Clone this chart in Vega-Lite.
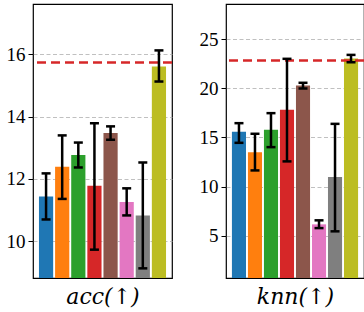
{
  "$schema": "https://vega.github.io/schema/vega-lite/v6.json",
  "padding": {"left": 5, "top": 3, "right": 0, "bottom": 0},
  "datasets": {
    "bars": [
      {"panel": "acc", "method": "m1", "value": 11.44, "lo": 10.70, "hi": 12.18},
      {"panel": "acc", "method": "m2", "value": 12.39, "lo": 11.36, "hi": 13.40},
      {"panel": "acc", "method": "m3", "value": 12.77, "lo": 12.37, "hi": 13.17},
      {"panel": "acc", "method": "m4", "value": 11.78, "lo": 9.73, "hi": 13.79},
      {"panel": "acc", "method": "m5", "value": 13.48, "lo": 13.26, "hi": 13.69},
      {"panel": "acc", "method": "m6", "value": 11.26, "lo": 10.83, "hi": 11.70},
      {"panel": "acc", "method": "m7", "value": 10.83, "lo": 9.13, "hi": 12.53},
      {"panel": "acc", "method": "m8", "value": 15.61, "lo": 15.13, "hi": 16.13},
      {"panel": "knn", "method": "m1", "value": 15.57, "lo": 14.45, "hi": 16.45},
      {"panel": "knn", "method": "m2", "value": 13.50, "lo": 11.64, "hi": 15.37},
      {"panel": "knn", "method": "m3", "value": 15.77, "lo": 14.01, "hi": 17.47},
      {"panel": "knn", "method": "m4", "value": 17.81, "lo": 12.56, "hi": 23.00},
      {"panel": "knn", "method": "m5", "value": 20.29, "lo": 19.98, "hi": 20.56},
      {"panel": "knn", "method": "m6", "value": 6.15, "lo": 5.77, "hi": 6.56},
      {"panel": "knn", "method": "m7", "value": 10.98, "lo": 5.44, "hi": 16.38},
      {"panel": "knn", "method": "m8", "value": 23.04, "lo": 22.65, "hi": 23.40}
    ],
    "refs": [
      {"panel": "acc", "ref": 15.74},
      {"panel": "knn", "ref": 22.82}
    ]
  },
  "config": {
    "view": {"stroke": "black", "strokeWidth": 1.2},
    "concat": {"spacing": 24},
    "axis": {
      "labelFont": "Liberation Serif",
      "labelFontSize": 19,
      "labelColor": "black",
      "titleFont": "DejaVu Serif",
      "titleFontStyle": "italic",
      "titleFontWeight": "normal",
      "titleFontSize": 22,
      "titleColor": "black",
      "domain": false,
      "tickColor": "black",
      "tickSize": 5,
      "labelPadding": 3
    }
  },
  "hconcat": [
    {
      "width": 139,
      "height": 274,
      "layer": [
        {
          "data": {"name": "bars"},
          "transform": [{"filter": "datum.panel === 'acc'"}],
          "mark": {"type": "bar", "clip": true},
          "encoding": {
            "x": {"field": "method", "type": "nominal", "scale": {"paddingInner": 0.12, "paddingOuter": 0.37},
                  "axis": {"title": "acc(↑)", "labels": false, "ticks": false, "titlePadding": 8}},
            "y": {"field": "value", "type": "quantitative", "scale": {"domain": [8.82, 17.62], "nice": false, "zero": false},
                  "axis": {"title": null, "values": [10, 12, 14, 16], "grid": true, "gridDash": [4, 2.5], "gridColor": "#b0b0b0", "gridWidth": 0.8}},
            "color": {"field": "method", "type": "nominal", "legend": null,
                      "scale": {"domain": ["m1","m2","m3","m4","m5","m6","m7","m8"],
                                "range": ["#1f77b4","#ff7f0e","#2ca02c","#d62728","#8c564b","#e377c2","#7f7f7f","#bcbd22"]}}
          }
        },
        {
          "data": {"name": "refs"},
          "transform": [{"filter": "datum.panel === 'acc'"}],
          "mark": {"type": "rule", "color": "#d62728", "strokeWidth": 2.5, "strokeDash": [9, 5]},
          "encoding": {"y": {"field": "ref", "type": "quantitative"}}
        },
        {
          "data": {"name": "bars"},
          "transform": [{"filter": "datum.panel === 'acc'"}],
          "mark": {"type": "rule", "color": "black", "strokeWidth": 2.5},
          "encoding": {
            "x": {"field": "method", "type": "nominal"},
            "y": {"field": "lo", "type": "quantitative"},
            "y2": {"field": "hi"}
          }
        },
        {
          "data": {"name": "bars"},
          "transform": [{"filter": "datum.panel === 'acc'"}],
          "mark": {"type": "tick", "color": "black", "thickness": 2.5, "size": 9, "opacity": 1},
          "encoding": {
            "x": {"field": "method", "type": "nominal"},
            "y": {"field": "lo", "type": "quantitative"}
          }
        },
        {
          "data": {"name": "bars"},
          "transform": [{"filter": "datum.panel === 'acc'"}],
          "mark": {"type": "tick", "color": "black", "thickness": 2.5, "size": 9, "opacity": 1},
          "encoding": {
            "x": {"field": "method", "type": "nominal"},
            "y": {"field": "hi", "type": "quantitative"}
          }
        }
      ]
    },
    {
      "width": 138,
      "height": 274,
      "layer": [
        {
          "data": {"name": "bars"},
          "transform": [{"filter": "datum.panel === 'knn'"}],
          "mark": {"type": "bar", "clip": true},
          "encoding": {
            "x": {"field": "method", "type": "nominal", "scale": {"paddingInner": 0.12, "paddingOuter": 0.37},
                  "axis": {"title": "knn(↑)", "labels": false, "ticks": false, "titlePadding": 8}},
            "y": {"field": "value", "type": "quantitative", "scale": {"domain": [0.69, 28.58], "nice": false, "zero": false},
                  "axis": {"title": null, "values": [5, 10, 15, 20, 25], "grid": true, "gridDash": [4, 2.5], "gridColor": "#b0b0b0", "gridWidth": 0.8}},
            "color": {"field": "method", "type": "nominal", "legend": null,
                      "scale": {"domain": ["m1","m2","m3","m4","m5","m6","m7","m8"],
                                "range": ["#1f77b4","#ff7f0e","#2ca02c","#d62728","#8c564b","#e377c2","#7f7f7f","#bcbd22"]}}
          }
        },
        {
          "data": {"name": "refs"},
          "transform": [{"filter": "datum.panel === 'knn'"}],
          "mark": {"type": "rule", "color": "#d62728", "strokeWidth": 2.5, "strokeDash": [9, 5]},
          "encoding": {"y": {"field": "ref", "type": "quantitative"}}
        },
        {
          "data": {"name": "bars"},
          "transform": [{"filter": "datum.panel === 'knn'"}],
          "mark": {"type": "rule", "color": "black", "strokeWidth": 2.5},
          "encoding": {
            "x": {"field": "method", "type": "nominal"},
            "y": {"field": "lo", "type": "quantitative"},
            "y2": {"field": "hi"}
          }
        },
        {
          "data": {"name": "bars"},
          "transform": [{"filter": "datum.panel === 'knn'"}],
          "mark": {"type": "tick", "color": "black", "thickness": 2.5, "size": 9, "opacity": 1},
          "encoding": {
            "x": {"field": "method", "type": "nominal"},
            "y": {"field": "lo", "type": "quantitative"}
          }
        },
        {
          "data": {"name": "bars"},
          "transform": [{"filter": "datum.panel === 'knn'"}],
          "mark": {"type": "tick", "color": "black", "thickness": 2.5, "size": 9, "opacity": 1},
          "encoding": {
            "x": {"field": "method", "type": "nominal"},
            "y": {"field": "hi", "type": "quantitative"}
          }
        }
      ]
    }
  ]
}
